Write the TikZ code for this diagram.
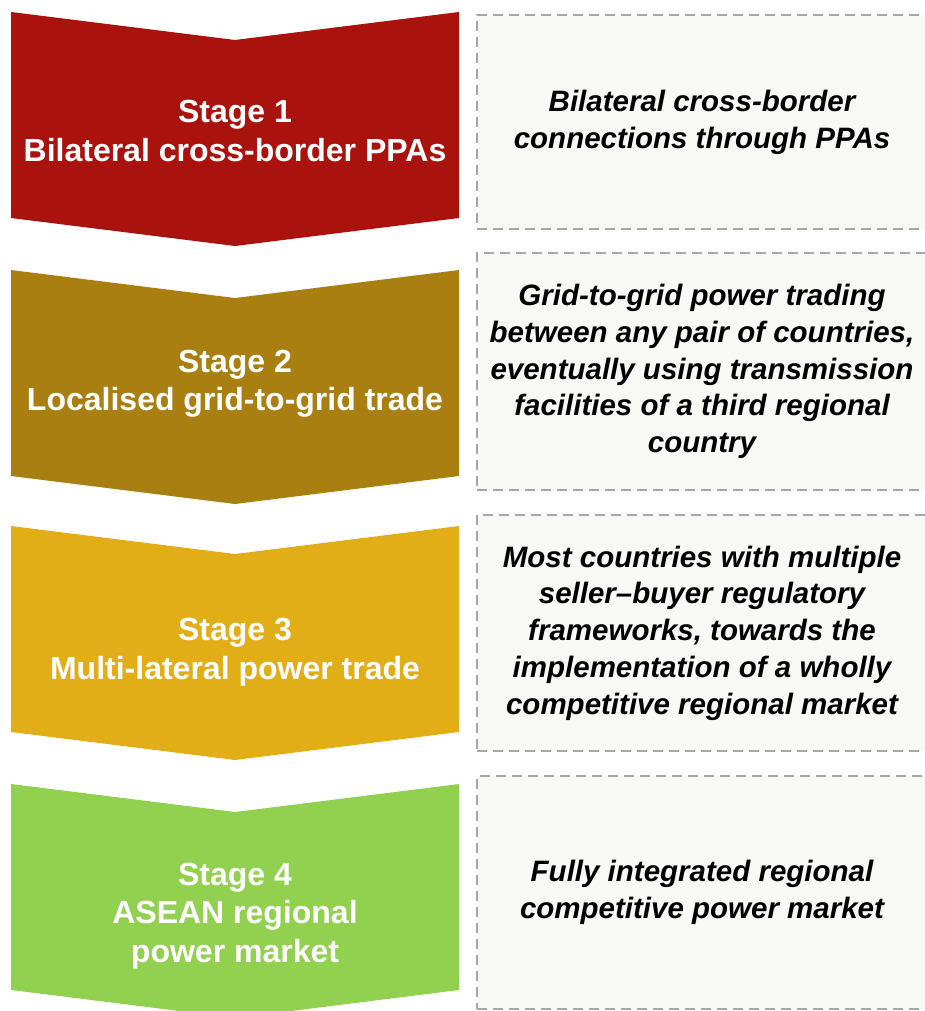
\documentclass[tikz,border=0pt]{standalone}
\usepackage{fontspec}
\setmainfont{Liberation Sans}

\definecolor{stageone}{RGB}{170,18,14}
\definecolor{stagetwo}{RGB}{170,127,18}
\definecolor{stagethree}{RGB}{226,174,24}
\definecolor{stagefour}{RGB}{146,208,80}
\definecolor{boxgray}{RGB}{166,166,166}
\definecolor{boxfill}{RGB}{248,248,244}

\tikzset{
  stagetext/.style={text=white, align=center, font=\fontsize{32}{38.4}\selectfont\bfseries},
  descbox/.style={draw=boxgray, fill=boxfill, line width=2pt, dash pattern=on 10pt off 6pt,
    minimum width=450pt, align=center, inner sep=0pt,
    font=\fontsize{29.5}{36.8}\selectfont\bfseries\itshape}
}

\begin{document}
\begin{tikzpicture}[x=1pt,y=-1pt]
              \useasboundingbox (0,0) rectangle (925,1011);
              \clip (0,0) rectangle (925,1011);

              \fill[stageone] (11,12) -- (235,40) -- (459,12) -- (459,218) -- (235,246) -- (11,218) -- cycle;
              \fill[stagetwo] (11,270) -- (235,298) -- (459,270) -- (459,476) -- (235,504) -- (11,476) -- cycle;
              \fill[stagethree] (11,526) -- (235,554) -- (459,526) -- (459,732) -- (235,760) -- (11,732) -- cycle;
              \fill[stagefour] (11,784) -- (235,812) -- (459,784) -- (459,990) -- (235,1018) -- (11,990) -- cycle;

              \node[stagetext] (s1) at (235,131) {Stage 1\\Bilateral cross-border PPAs};
              \node[stagetext] (s2) at (235,384) {Stage 2\\Localised grid-to-grid trade};
              \node[stagetext] (s3) at (235,652) {Stage 3\\Multi-lateral power trade};
              \node[stagetext] (s4) at (235,916) {Stage 4\\ASEAN regional\\power market};

              \node[descbox, minimum height=214pt] (d1) at (702,122) {Bilateral cross-border\\connections through PPAs};
              \node[descbox, minimum height=237pt] (d2) at (702,371.5) {Grid-to-grid power trading\\between any pair of countries,\\eventually using transmission\\facilities of a third regional\\country};
              \node[descbox, minimum height=236pt] (d3) at (702,633) {Most countries with multiple\\seller–buyer regulatory\\frameworks, towards the\\implementation of a wholly\\competitive regional market};
              \node[descbox, minimum height=233pt] (d4) at (702,892.5) {Fully integrated regional\\competitive power market};
            \end{tikzpicture}
\end{document}
